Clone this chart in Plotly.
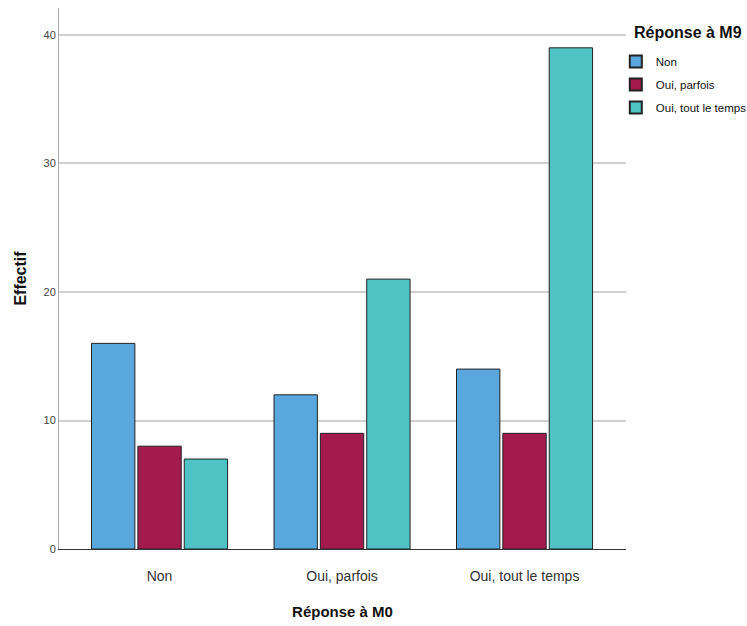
import plotly.graph_objects as go

categories = ["Non", "Oui, parfois", "Oui, tout le temps"]
series_names = ["Non", "Oui, parfois", "Oui, tout le temps"]
values_non = [16, 12, 14]
values_parfois = [8, 9, 9]
values_tout = [7, 21, 39]
colors = ["#5aa7de", "#a31a4c", "#4fc3c3"]
legend_title = "Réponse à M9"

FONT = "Liberation Sans, Arial, sans-serif"

fig = go.Figure()
for i, (name, vals, col) in enumerate(zip(series_names, [values_non, values_parfois, values_tout], colors)):
    fig.add_trace(go.Bar(
        x=categories, y=vals, name=name, legendgroup=f"g{i}",
        marker=dict(color=col, line=dict(color="#222222", width=1)),
    ))

fig.add_annotation(
    text=f"<b>{legend_title}</b>", xref="paper", yref="paper",
    x=1.0106, y=0.9556, xanchor="left", yanchor="middle", showarrow=False,
    font=dict(size=16, family=FONT, color="#111111"),
)

fig.update_layout(
    width=747, height=626,
    paper_bgcolor="white", plot_bgcolor="white",
    margin=dict(l=59, r=121, t=8, b=77, autoexpand=False),
    barmode="group", bargap=0.238, bargroupgap=0.065,
    font=dict(family=FONT, color="#222222"),
    showlegend=True,
    legend=dict(
        x=0.982, y=0.928, xanchor="left", yanchor="top",
        font=dict(size=11.5, family=FONT, color="#111111"),
        tracegroupgap=4, itemsizing="constant", itemwidth=30,
        bgcolor="rgba(0,0,0,0)",
    ),
    xaxis=dict(
        range=[-0.551, 2.556],
        showline=True, linecolor="#333333", linewidth=1,
        showgrid=False, ticks="", ticklabelstandoff=14,
        tickfont=dict(size=14, family=FONT, color="#333333"),
        title=dict(text="<b>Réponse à M0</b>", font=dict(size=15, family=FONT, color="#111111"), standoff=23),
    ),
    yaxis=dict(
        range=[0, 42.1],
        tickvals=[0, 10, 20, 30, 40],
        showline=True, linecolor="#aaaaaa", linewidth=1,
        showgrid=True, gridcolor="#d0d0d0", gridwidth=1.5,
        zeroline=False, ticks="",
        tickfont=dict(size=11, family=FONT, color="#444444"),
        title=dict(text="<b>Effectif</b>", font=dict(size=16, family=FONT, color="#111111"), standoff=12),
    ),
)

fig.write_html("out.html", config={"displayModeBar": False},
               post_script="document.body.style.margin='0';")
